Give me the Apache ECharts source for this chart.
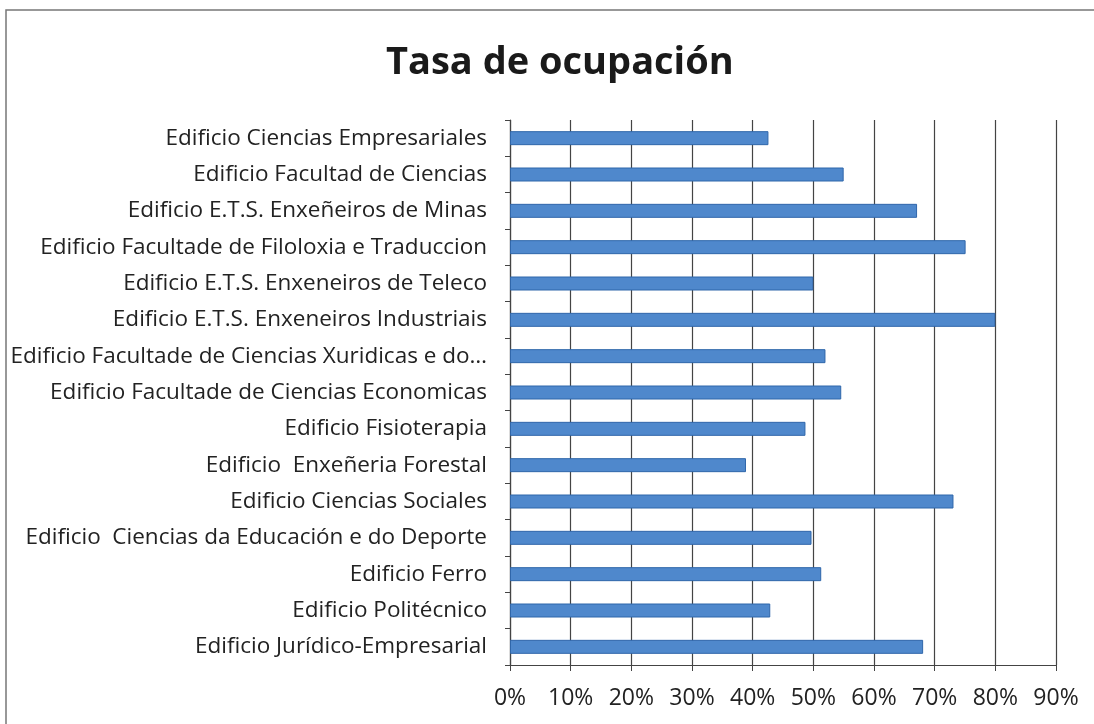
<!DOCTYPE html>
<html>
<head>
<meta charset="utf-8">
<script src="https://cdn.jsdelivr.net/npm/echarts@6/dist/echarts.min.js"></script>
<style>
  html, body { margin: 0; padding: 0; background: #fff; }
  #chart { width: 1094px; height: 724px; }
</style>
</head>
<body>
<div id="chart"></div>
<script>
var categories = [
  'Edificio Ciencias Empresariales',
  'Edificio Facultad de Ciencias',
  'Edificio E.T.S. Enxeñeiros de Minas',
  'Edificio Facultade de Filoloxia e Traduccion',
  'Edificio E.T.S. Enxeneiros de Teleco',
  'Edificio E.T.S. Enxeneiros Industriais',
  'Edificio Facultade de Ciencias Xuridicas e do…',
  'Edificio Facultade de Ciencias Economicas',
  'Edificio Fisioterapia',
  'Edificio  Enxeñeria Forestal',
  'Edificio Ciencias Sociales',
  'Edificio  Ciencias da Educación e do Deporte',
  'Edificio Ferro',
  'Edificio Politécnico',
  'Edificio Jurídico-Empresarial'
];
var occupancy = [42.6, 55.0, 67.1, 75.1, 50.0, 80.0, 52.0, 54.6, 48.7, 38.9, 73.1, 49.7, 51.3, 42.9, 68.1];
var xTicks = [0, 10, 20, 30, 40, 50, 60, 70, 80, 90];

var chart = echarts.init(document.getElementById('chart'));
var font = '"Open Sans", Lato, sans-serif';

chart.setOption({
  animation: false,
  backgroundColor: '#fff',
  graphic: [{
    type: 'rect',
    shape: { x: 6, y: 10, width: 1200, height: 800 },
    style: { fill: 'none', stroke: '#777', lineWidth: 1.5 },
    silent: true
  }],
  title: {
    text: 'Tasa de ocupación',
    left: 381,
    top: 39,
    textStyle: { fontFamily: font, fontSize: 38, fontWeight: 'bold', color: '#1a1a1a' }
  },
  grid: { left: 510, right: 38, top: 120, bottom: 59, containLabel: false },
  xAxis: {
    type: 'value',
    min: xTicks[0],
    max: xTicks[xTicks.length - 1],
    interval: 10,
    axisLine: { show: true, lineStyle: { color: '#444', width: 1.2 } },
    axisTick: { show: true, length: 6, lineStyle: { color: '#444' } },
    axisLabel: {
      margin: 22,
      fontFamily: font,
      fontSize: 23,
      color: '#222',
      formatter: function (v) { return v + '%'; }
    },
    splitLine: { show: true, lineStyle: { color: '#444', width: 1.2 } }
  },
  yAxis: {
    type: 'category',
    inverse: true,
    data: categories,
    axisLine: { show: true, lineStyle: { color: '#444', width: 1.2 } },
    axisTick: { show: true, length: 5, lineStyle: { color: '#444' } },
    axisLabel: { margin: 23, fontFamily: font, fontSize: 22.5, color: '#222' }
  },
  series: [{
    type: 'bar',
    data: occupancy,
    barWidth: 14,
    itemStyle: { color: '#4f88cc', borderColor: '#2f66aa', borderWidth: 1 }
  }]
});
</script>
</body>
</html>
